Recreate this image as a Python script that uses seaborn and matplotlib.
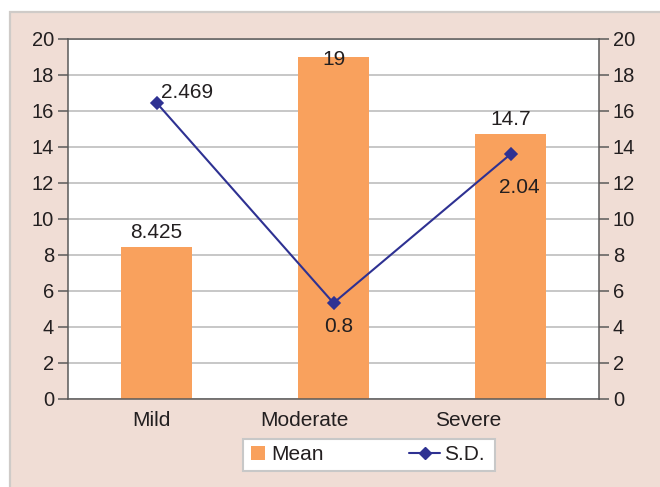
import matplotlib
matplotlib.use("Agg")
import matplotlib.pyplot as plt
import matplotlib.transforms as mtrans
from matplotlib.lines import Line2D
from matplotlib.patches import Rectangle, Patch
import pandas as pd
import seaborn as sns

# Data
severity = ["Mild", "Moderate", "Severe"]
mean_values = [8.425, 19, 14.7]
sd_values = [2.469, 0.8, 2.04]
left_ticks = list(range(0, 21, 2))

# Styling
bar_color = "#F9A15D"
line_color = "#2E3192"
text_color = "#231F20"
spine_color = "#5A5A5A"
grid_color = "#BEBEBE"
panel_color = "#F0DDD5"

sns.set_theme(style="white")
plt.rcParams["font.family"] = ["Liberation Sans", "DejaVu Sans"]

fig = plt.figure(figsize=(6.6, 4.87), dpi=100, facecolor="white")

# pink panel behind the chart
fig.patches.append(Rectangle((10 / 660, -0.1), 1.0, 475 / 487 + 0.1,
                             transform=fig.transFigure, facecolor=panel_color,
                             edgecolor="#CFCBC8", linewidth=1.6, zorder=-10))

ax = fig.add_axes([68 / 660, 88 / 487, 531 / 660, 360 / 487])
ax.set_facecolor("white")

mean_df = pd.DataFrame({"Severity": severity, "Mean": mean_values})
sns.barplot(data=mean_df, x="Severity", y="Mean", ax=ax, color=bar_color,
            saturation=1, width=0.4, edgecolor="none", zorder=2)
ax.set_xlim(-0.5, 2.5)
ax.set_ylim(0, 20)
ax.set_yticks(left_ticks)
ax.yaxis.grid(True, color=grid_color, linewidth=1.2)
ax.xaxis.grid(False)
ax.set_axisbelow(True)
ax.set_xlabel("")
ax.set_ylabel("")

# value labels above the bars (kept inside the plot area)
for i, v in enumerate(mean_values):
    ax.annotate(f"{v:g}", (i, min(v + 0.83, 18.85)), ha="center", va="center",
                fontsize=15, color=text_color, zorder=5)

# S.D. series on its own scale
ax2 = ax.twinx()
sd_df = pd.DataFrame({"Severity": severity, "SD": sd_values})
sns.pointplot(data=sd_df, x="Severity", y="SD", ax=ax2, color=line_color,
              markers="D", linestyles="-", markersize=6.5, linewidth=1.5)
ax2.set_ylim(0, 3)
ax2.set_yticks([])
ax2.set_ylabel("")
ax2.set_xlabel("")
for s in ax2.spines.values():
    s.set_visible(False)

sd_label_offsets = [(22, 7), (4, -17), (6, -24)]
for i, (v, off) in enumerate(zip(sd_values, sd_label_offsets)):
    ax2.annotate(f"{v:g}", (i, v), xytext=off, textcoords="offset points",
                 ha="center", va="center", fontsize=15, color=text_color)

# axes styling
for s in ax.spines.values():
    s.set_visible(True)
    s.set_color(spine_color)
    s.set_linewidth(1.1)
ax.tick_params(axis="y", left=True, right=True, labelleft=True, labelright=True,
               length=7, width=1.1, color=spine_color, labelsize=14.5,
               labelcolor=text_color, pad=3)
ax.tick_params(axis="x", bottom=False, length=0, labelsize=15,
               labelcolor=text_color, pad=8.5)
ax2.tick_params(axis="y", right=False, labelright=False)

label_shift_px = [-5, -29, -42]
for lbl, dx in zip(ax.get_xticklabels(), label_shift_px):
    lbl.set_transform(lbl.get_transform() +
                      mtrans.ScaledTranslation(dx / 100, 0, fig.dpi_scale_trans))

# legend: white box with two entries
fig.patches.append(Rectangle((243 / 660, 16 / 487), 252 / 660, 32 / 487,
                             transform=fig.transFigure, facecolor="white",
                             edgecolor="#C8C8C8", linewidth=1.5, zorder=1))
legend_y = 32 / 487
leg_mean = fig.legend([Patch(facecolor=bar_color, edgecolor="none")], ["Mean"],
                      loc="center left", bbox_to_anchor=(251 / 660, legend_y),
                      frameon=False, fontsize=15, handlelength=0.65,
                      handleheight=0.65, handletextpad=0.3, borderpad=0,
                      borderaxespad=0, labelcolor=text_color)
leg_sd = fig.legend([Line2D([], [], marker="D", color=line_color,
                            linewidth=1.5, markersize=6.5)], ["S.D."],
                    loc="center left", bbox_to_anchor=(409 / 660, legend_y),
                    frameon=False, fontsize=15, handlelength=1.5,
                    handletextpad=0.2, borderpad=0, borderaxespad=0,
                    labelcolor=text_color)

fig.savefig("out.png", dpi=100, facecolor="white")
